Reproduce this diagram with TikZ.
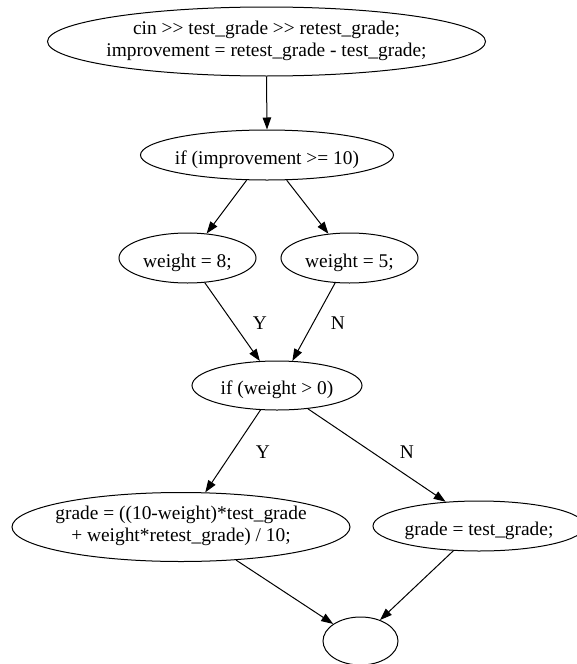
\documentclass[tikz,border=0pt]{standalone}
\usepackage{fontspec}
\setmainfont{Liberation Serif}
\usetikzlibrary{shapes.geometric,arrows.meta}

\tikzset{
  stmt/.style={ellipse, draw, line width=1pt, inner ysep=0pt, inner xsep=-40pt,
               font=\fontsize{19.4}{22}\selectfont},
  oneline/.style={text height=23pt, text depth=5pt},
  twoline/.style={text height=26.5pt, text depth=17.5pt},
  flow/.style={line width=1pt, -{Triangle[length=12pt,width=8.5pt]}},
  lbl/.style={inner sep=0pt, font=\fontsize{19.4}{22}\selectfont}
}
\newcommand{\twolines}[2]{\begin{tabular}{@{}c@{}}#1\\#2\end{tabular}}

\begin{document}
\begin{tikzpicture}[x=1pt, y=-1pt]
  \useasboundingbox (0,0) rectangle (577,664);

  % statements and decisions
  \node[stmt, twoline, minimum width=438pt, minimum height=69pt] (read) at (266.5,41.5)
    {\twolines{cin >{}> test\_grade >{}> retest\_grade;}{improvement = retest\_grade - test\_grade;}};
  \node[stmt, oneline, minimum width=253pt, minimum height=50pt] (imp) at (267,155)
    {if (improvement >= 10)};
  \node[stmt, oneline, minimum width=137pt, minimum height=50pt] (w8) at (187.5,258)
    {weight = 8;};
  \node[stmt, oneline, minimum width=137pt, minimum height=50pt] (w5) at (349.5,258)
    {weight = 5;};
  \node[stmt, oneline, minimum width=170pt, minimum height=49pt] (wgt) at (277,385.5)
    {if (weight > 0)};
  \node[stmt, twoline, minimum width=338pt, minimum height=69pt] (mix) at (181,527)
    {\twolines{grade = ((10-weight)*test\_grade}{+ weight*retest\_grade) / 10;}};
  \node[stmt, oneline, minimum width=212pt, minimum height=50pt] (keep) at (479,526)
    {grade = test\_grade;};
  \node[stmt, minimum width=75pt, minimum height=48pt] (done) at (360.5,641) {};

  % branch labels
  \node[lbl] (y1) at (260,323) {Y};
  \node[lbl] (n1) at (338,323) {N};
  \node[lbl] (y2) at (263,452) {Y};
  \node[lbl] (n2) at (407,452) {N};

  % control flow
  \draw[flow] (read.south) -- (imp.north);
  \draw[flow] (imp.-129) -- (w8.52);
  \draw[flow] (imp.-52) -- (w5.131);
  \draw[flow] (w8.-55) -- (wgt.125);
  \draw[flow] (w5.-120) -- (wgt.58.5);
  \draw[flow] (wgt.-124) -- (mix.55);
  \draw[flow] (wgt.-37) -- (keep.144);
  \draw[flow] (mix.-31) -- (done.148);
  \draw[flow] (keep.-136) -- (done.47);
\end{tikzpicture}
\end{document}
